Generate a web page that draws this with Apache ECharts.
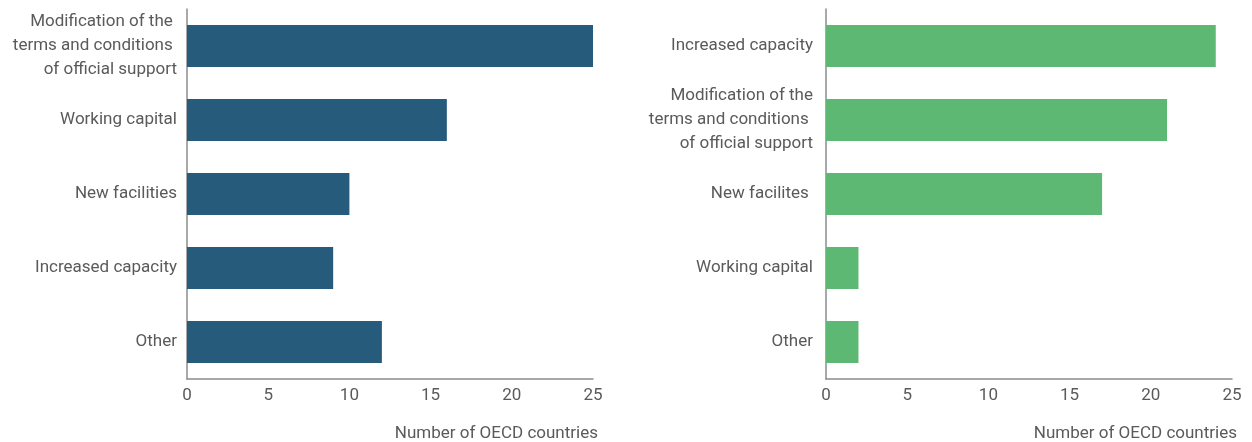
<!DOCTYPE html>
<html>
<head>
<meta charset="utf-8">
<script src="https://cdn.jsdelivr.net/npm/echarts@6/dist/echarts.min.js"></script>
<style>
  html, body { margin: 0; padding: 0; background: #ffffff; }
  #chart { width: 1252px; height: 442px; }
</style>
</head>
<body>
<div id="chart"></div>
<script>
// Left panel: types of support measures
const leftCategories = [
  'Modification of the \nterms and conditions \nof official support',
  'Working capital',
  'New facilities',
  'Increased capacity',
  'Other'
];
const leftValues = [25, 16, 10, 9, 12];

// Right panel
const rightCategories = [
  'Increased capacity',
  'Modification of the\nterms and conditions \nof official support',
  'New facilites ',
  'Working capital',
  'Other'
];
const rightValues = [24, 21, 17, 2, 2];

const xTicks = { min: 0, max: 25, interval: 5 };
const axisTitle = 'Number of OECD countries';

const textColor = '#5a5a5a';
const axisColor = '#8c8c8c';
const fontFamily = 'Roboto, "Noto Sans", sans-serif';
const fontSize = 17;

function xAxis(gridIndex) {
  return {
    type: 'value',
    gridIndex,
    min: xTicks.min,
    max: xTicks.max,
    interval: xTicks.interval,
    axisLine: { show: true, lineStyle: { color: axisColor, width: 1.5 } },
    axisTick: { show: false },
    splitLine: { show: false },
    axisLabel: { color: textColor, fontSize, fontFamily, margin: 8 },
    name: axisTitle,
    nameLocation: 'end',
    nameGap: 5,
    nameTextStyle: {
      color: textColor, fontSize, fontFamily,
      align: 'right', verticalAlign: 'top', padding: [46, 0, 0, 0]
    }
  };
}

function yAxis(gridIndex, cats, margin) {
  return {
    type: 'category',
    gridIndex,
    data: cats,
    inverse: true,
    axisLine: { show: true, lineStyle: { color: axisColor, width: 1.5 } },
    axisTick: { show: false },
    axisLabel: {
      color: textColor, fontSize, fontFamily, margin,
      lineHeight: 24, align: 'right', padding: [5, 0, 0, 0]
    }
  };
}

const chart = echarts.init(document.getElementById('chart'));
chart.setOption({
  backgroundColor: '#ffffff',
  animation: false,
  grid: [
    { left: 187, right: 659, top: 9, bottom: 63 },
    { left: 826, right: 20, top: 9, bottom: 63 }
  ],
  xAxis: [xAxis(0), xAxis(1)],
  yAxis: [yAxis(0, leftCategories, 10), yAxis(1, rightCategories, 13)],
  series: [
    {
      type: 'bar', xAxisIndex: 0, yAxisIndex: 0,
      data: leftValues,
      barCategoryGap: '43%',
      itemStyle: { color: '#265b7b' }
    },
    {
      type: 'bar', xAxisIndex: 1, yAxisIndex: 1,
      data: rightValues,
      barCategoryGap: '43%',
      itemStyle: { color: '#5cb873' }
    }
  ]
});
</script>
</body>
</html>
